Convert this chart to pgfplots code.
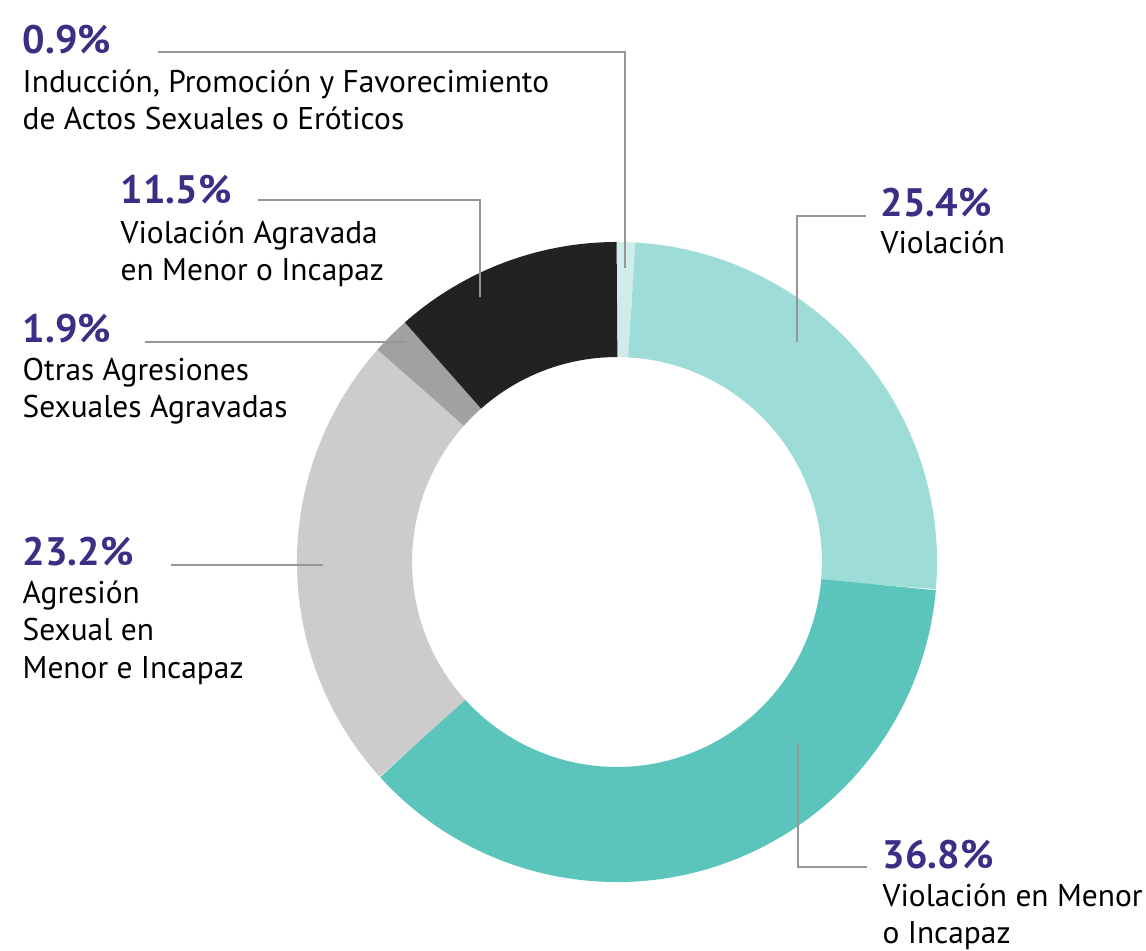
\documentclass[border=0pt]{standalone}
\usepackage{fontspec}
\setmainfont{PT Sans}
\usepackage{pgfplots}
\usepackage{pgfplotstable}
\pgfplotsset{compat=1.18}

\definecolor{sA}{RGB}{207,236,234}
\definecolor{sB}{RGB}{157,220,215}
\definecolor{sC}{RGB}{91,197,188}
\definecolor{sD}{RGB}{204,204,204}
\definecolor{sE}{RGB}{161,161,161}
\definecolor{sF}{RGB}{34,34,34}
\definecolor{pctcol}{RGB}{59,46,133}
\definecolor{leader}{RGB}{150,150,150}

% share of each category, clockwise from the top
\pgfplotstableread{
pct  col
0.9  sA
25.4 sB
36.8 sC
23.2 sD
1.9  sE
11.5 sF
}\slices

\newcommand{\pctfont}{\fontsize{11.3}{12}\selectfont\bfseries}
\newcommand{\txtfont}{\fontsize{8.93}{10.5}\selectfont}
\newcommand{\pct}[3]{\node[anchor=base west,font=\pctfont,text=pctcol,inner sep=0pt] at (axis cs:#1,#2) {#3};}
\newcommand{\txt}[3]{\node[anchor=base west,font=\txtfont,text=black,inner sep=0pt] at (axis cs:#1,#2) {#3};}

\begin{document}
\begin{tikzpicture}
\begin{axis}[
  x=0.01cm, y=0.01cm,
  xmin=0, xmax=1146, ymin=0, ymax=950,
  hide axis, clip=false,
]
\path (axis cs:0,0) rectangle (axis cs:1146,950);

% ring: one thick arc per slice
\pgfplotstablegetrowsof{\slices}
\pgfmathtruncatemacro{\N}{\pgfplotsretval-1}
\def\cum{0}
\pgfplotsforeachungrouped \i in {0,...,\N}{
  \pgfplotstablegetelem{\i}{pct}\of\slices \let\p\pgfplotsretval
  \pgfplotstablegetelem{\i}{col}\of\slices \let\c\pgfplotsretval
  \pgfmathsetmacro{\a}{90-3.6*\cum/0.997}
  \pgfmathsetmacro{\cum}{\cum+\p}
  \pgfmathsetmacro{\b}{90-3.6*\cum/0.997}
  \edef\temp{\noexpand\addplot[draw=\c, line width=1.15cm, line cap=butt,
    domain=\b:\a, samples=120, variable=\noexpand\t]
    ({617+262.5*cos(\noexpand\t)},{388+262.5*sin(\noexpand\t)});}
  \temp
}

% leader lines
\draw[leader, line width=0.45pt] (axis cs:158,898) -- (axis cs:625,898) -- (axis cs:625,682);
\draw[leader, line width=0.45pt] (axis cs:258,750) -- (axis cs:480,750) -- (axis cs:480,653);
\draw[leader, line width=0.45pt] (axis cs:145,608) -- (axis cs:406,608);
\draw[leader, line width=0.45pt] (axis cs:171,385) -- (axis cs:323,385);
\draw[leader, line width=0.45pt] (axis cs:866,734) -- (axis cs:797,734) -- (axis cs:797,608);
\draw[leader, line width=0.45pt] (axis cs:798,207) -- (axis cs:798,83) -- (axis cs:867,83);

% labels
\pct{22}{897}{0.9\%}
\txt{22}{858}{Inducción, Promoción y Favorecimiento}
\txt{22}{821}{de Actos Sexuales o Eróticos}
\pct{120}{747}{11.5\%}
\txt{120}{707}{Violación Agravada}
\txt{120}{670}{en Menor o Incapaz}
\pct{22}{608}{1.9\%}
\txt{22}{570}{Otras Agresiones}
\txt{22}{533}{Sexuales Agravadas}
\pct{22}{385}{23.2\%}
\txt{22}{347}{Agresión}
\txt{22}{310}{Sexual en}
\txt{22}{272}{Menor e Incapaz}
\pct{880}{734}{25.4\%}
\txt{880}{697}{Violación}
\pct{882}{82}{36.8\%}
\txt{882}{44}{Violación en Menor}
\txt{882}{7}{o Incapaz}
\end{axis}
\end{tikzpicture}
\end{document}
